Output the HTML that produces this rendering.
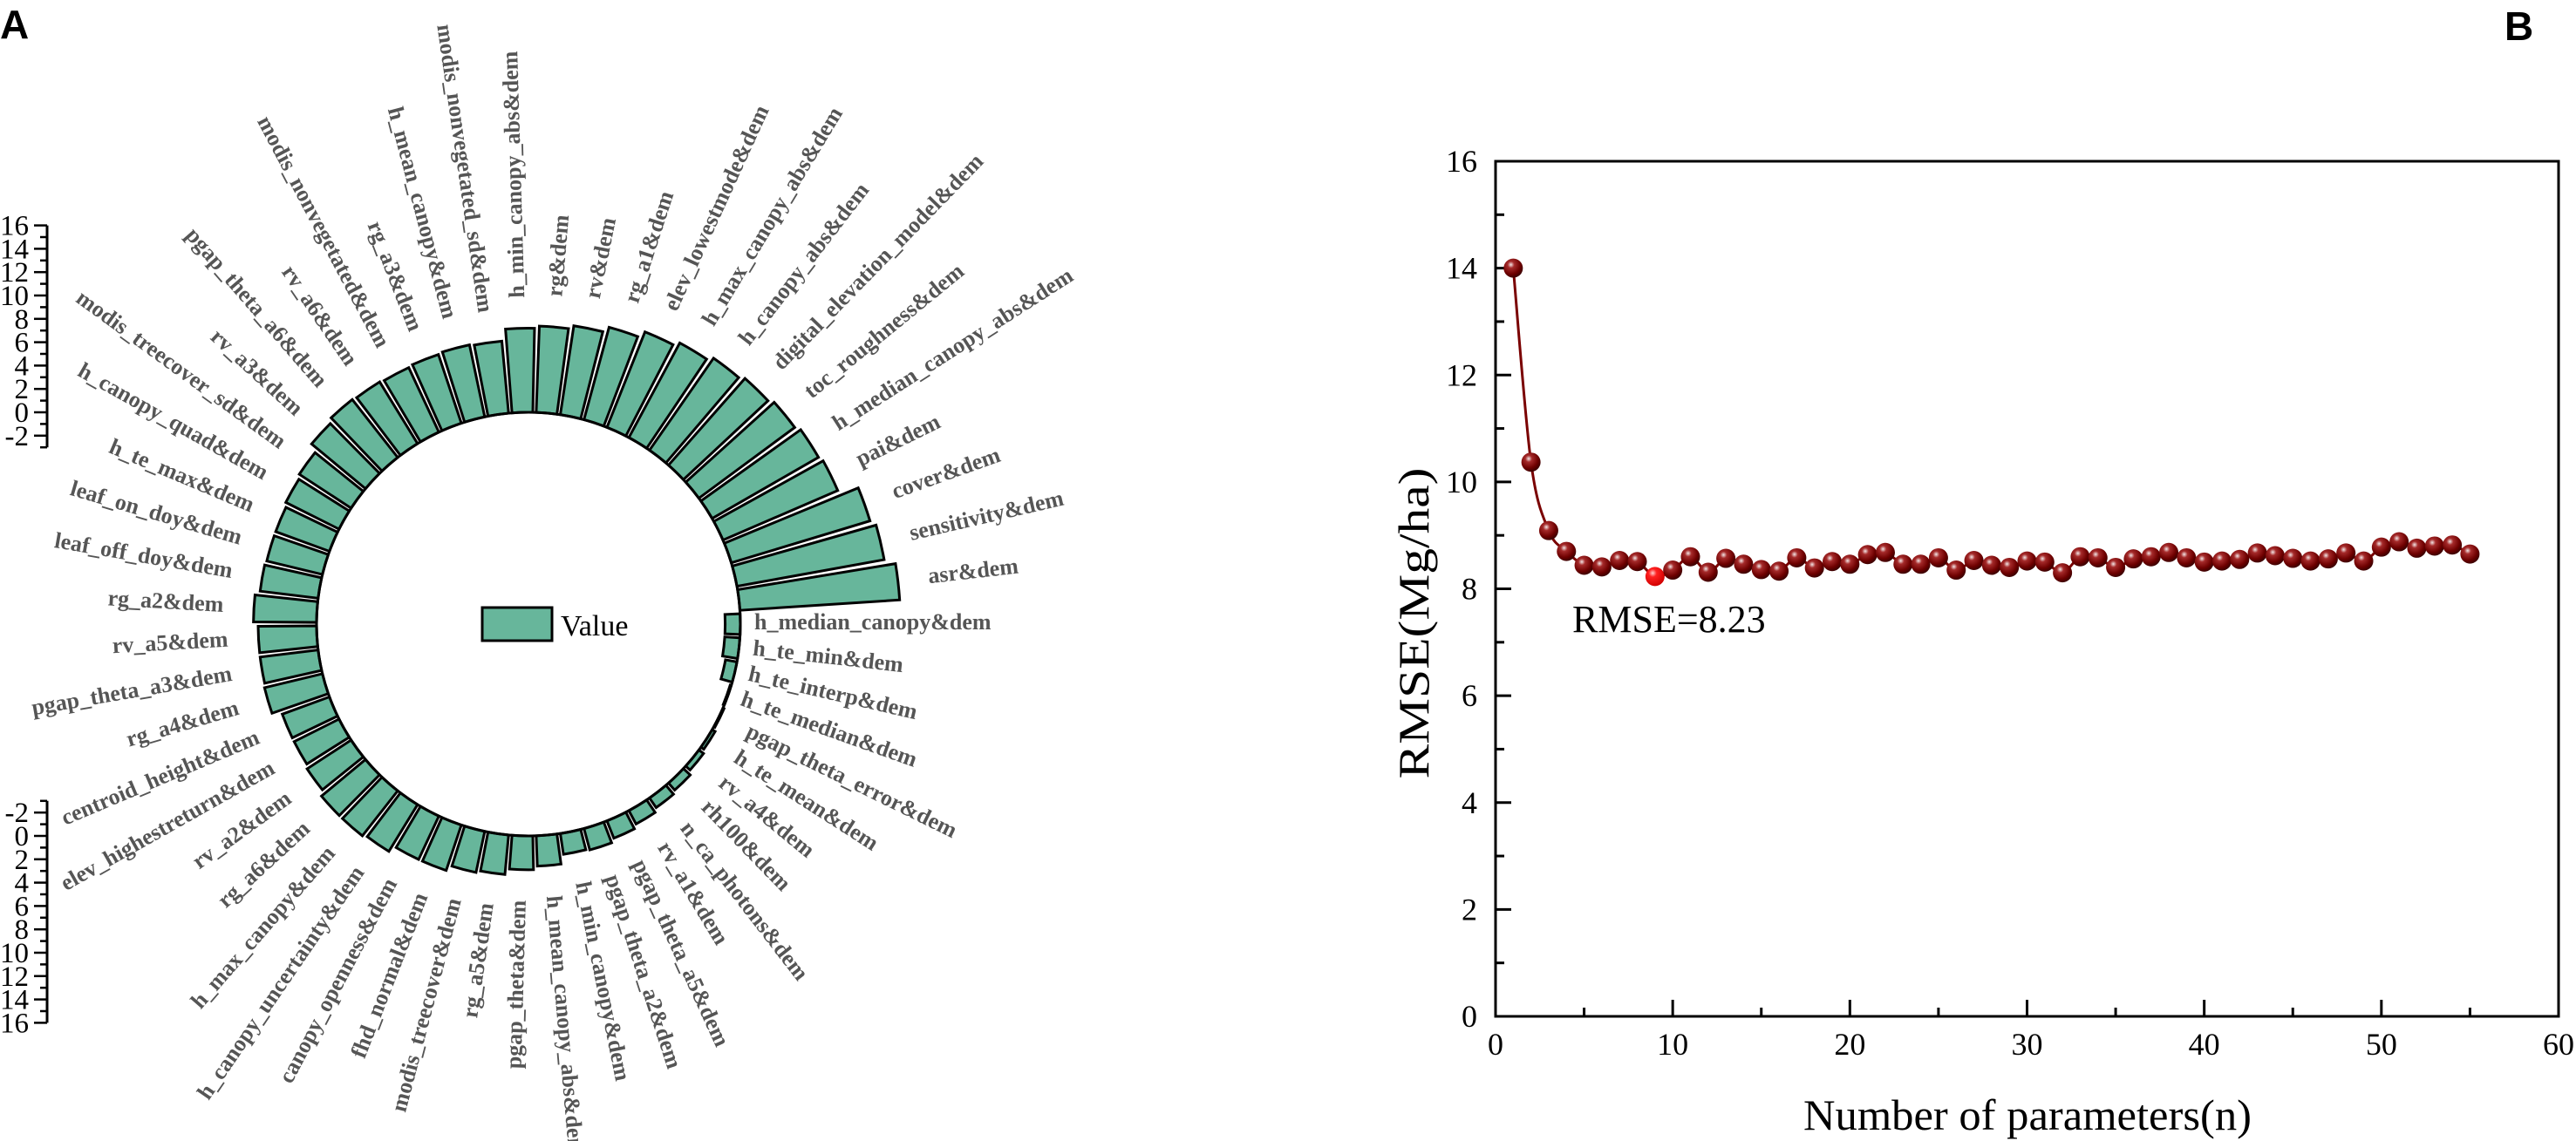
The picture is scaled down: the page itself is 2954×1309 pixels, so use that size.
<!DOCTYPE html>
<html><head><meta charset="utf-8"><style>
html,body{margin:0;padding:0;background:#fff;}
svg{display:block;}
</style></head><body>
<svg id="root" xmlns="http://www.w3.org/2000/svg" width="2954" height="1309" viewBox="0 0 2954 1309">
<defs>
<radialGradient id="ball" cx="0.38" cy="0.32" r="0.7">
<stop offset="0" stop-color="#f4e8e8"/><stop offset="0.25" stop-color="#a52a2a"/><stop offset="0.7" stop-color="#6e0000"/><stop offset="1" stop-color="#3a0000"/>
</radialGradient>
<radialGradient id="ballred" cx="0.38" cy="0.32" r="0.7">
<stop offset="0" stop-color="#ffd0d0"/><stop offset="0.3" stop-color="#ff2020"/><stop offset="1" stop-color="#d00000"/>
</radialGradient>
</defs>
<text x="0" y="44" font-family="Liberation Sans, sans-serif" font-weight="bold" font-size="46">A</text>
<text x="2872" y="46" font-family="Liberation Sans, sans-serif" font-weight="bold" font-size="46">B</text>
<g id="polar"></g>
<g id="lineChart"></g>
</svg>
<script>
// ---------- Panel A data ----------
const featureNames = ["asr&dem","sensitivity&dem","cover&dem","pai&dem","h_median_canopy_abs&dem","toc_roughness&dem","digital_elevation_model&dem","h_canopy_abs&dem","h_max_canopy_abs&dem","elev_lowestmode&dem","rg_a1&dem","rv&dem","rg&dem","h_min_canopy_abs&dem","modis_nonvegetated_sd&dem","h_mean_canopy&dem","rg_a3&dem","modis_nonvegetated&dem","rv_a6&dem","pgap_theta_a6&dem","rv_a3&dem","modis_treecover_sd&dem","h_canopy_quad&dem","h_te_max&dem","leaf_on_doy&dem","leaf_off_doy&dem","rg_a2&dem","rv_a5&dem","pgap_theta_a3&dem","rg_a4&dem","centroid_height&dem","elev_highestreturn&dem","rv_a2&dem","rg_a6&dem","h_max_canopy&dem","h_canopy_uncertainty&dem","canopy_openness&dem","fhd_normal&dem","modis_treecover&dem","rg_a5&dem","pgap_theta&dem","h_mean_canopy_abs&dem","h_min_canopy&dem","pgap_theta_a2&dem","pgap_theta_a5&dem","rv_a1&dem","n_ca_photons&dem","rh100&dem","rv_a4&dem","h_te_mean&dem","pgap_theta_error&dem","h_te_median&dem","h_te_interp&dem","h_te_min&dem","h_median_canopy&dem"];
const featureValues = [13.7,12.8,12.4,10.7,10.5,10.2,9.9,9.6,9.2,8.8,8.2,7.7,7.4,7.2,6.2,6.3,6.2,6.1,6.2,6.3,6.0,5.3,5.1,4.9,4.9,5.0,5.4,5.0,5.0,5.1,4.3,4.3,4.5,4.9,4.9,4.7,4.1,4.1,3.6,3.4,2.9,2.6,1.8,1.9,1.6,1.3,1.0,0.8,0.5,0.3,0.1,-0.1,-1.0,-1.3,-1.3];
const scaleTicks = [-2,0,2,4,6,8,10,12,14,16];

// ---------- Panel B data ----------
const paramCounts = [1,2,3,4,5,6,7,8,9,10,11,12,13,14,15,16,17,18,19,20,21,22,23,24,25,26,27,28,29,30,31,32,33,34,35,36,37,38,39,40,41,42,43,44,45,46,47,48,49,50,51,52,53,54,55];
const rmseValues = [14.0,10.37,9.09,8.7,8.44,8.41,8.53,8.51,8.23,8.35,8.6,8.31,8.57,8.46,8.36,8.33,8.58,8.39,8.51,8.46,8.64,8.68,8.46,8.46,8.58,8.35,8.53,8.44,8.4,8.52,8.5,8.3,8.6,8.58,8.4,8.56,8.6,8.68,8.58,8.5,8.52,8.55,8.67,8.62,8.57,8.52,8.56,8.67,8.52,8.78,8.88,8.76,8.8,8.82,8.65];
const yTickLabels = [0,2,4,6,8,10,12,14,16];
const xTickLabels = [0,10,20,30,40,50,60];
const bestIndex = 8;

const NS = "http://www.w3.org/2000/svg";
function mk(tag, attrs, parent){const e=document.createElementNS(NS,tag);for(const k in attrs)e.setAttribute(k,attrs[k]);parent.appendChild(e);return e;}

// ----- polar chart -----
const polar = document.getElementById('polar');
const cx=606, cy=716, r0=243, unit=13.4;
const step = 2*Math.PI/featureValues.length;
const radius = v => r0 + v*unit;
const pt = (r,a)=>[cx+r*Math.cos(a), cy-r*Math.sin(a)];
featureValues.forEach((v,i)=>{
  const a=(i+1)*step, hw=step*0.43;
  const rIn=Math.min(r0,radius(v)), rOut=Math.max(r0,radius(v));
  const p1=pt(rIn,a-hw),p2=pt(rOut,a-hw),p3=pt(rOut,a+hw),p4=pt(rIn,a+hw);
  const d=`M${p1[0]},${p1[1]} L${p2[0]},${p2[1]} A${rOut},${rOut} 0 0 0 ${p3[0]},${p3[1]} L${p4[0]},${p4[1]} A${rIn},${rIn} 0 0 1 ${p1[0]},${p1[1]} Z`;
  const bar=mk('path',{d:d,fill:'#67b69b',stroke:'#000','stroke-width':3,'stroke-linejoin':'miter'},polar);
  
  
  const deg=a*180/Math.PI;
  const lr=rOut+ (v>0?35:16);
  const lp=pt(lr,a);
  const flip = deg>95 && deg<270;
  const t=mk('text',{x:lp[0],y:lp[1],'font-family':'Liberation Serif, serif','font-weight':'bold','font-size':26,fill:'#555','dominant-baseline':'middle','text-anchor':flip?'end':'start',transform:`rotate(${flip?180-deg:-deg} ${lp[0]} ${lp[1]})`},polar);
  t.textContent=featureNames[i];
  
  
});
const ic=mk('circle',{cx:cx,cy:cy,r:r0,fill:'none',stroke:'#000','stroke-width':3},polar);


const lg=mk('g',{},polar);


mk('rect',{x:553,y:697,width:80,height:38,fill:'#67b69b',stroke:'#000','stroke-width':3},lg);
const lt=mk('text',{x:643,y:729,'font-family':'Liberation Serif, serif','font-size':34},lg);lt.textContent='Value';
function scaleBar(dir, y0, nm){
  const g=mk('g',{},polar);
  
  
  const yv=v=>y0 - dir*v*unit;
  mk('line',{x1:54,x2:54,y1:yv(16),y2:yv(-3),stroke:'#000','stroke-width':3},g);
  for(let v=-3; v<=16; v++){
    const major = v%2===0;
    mk('line',{x1:major?39:46,x2:54,y1:yv(v),y2:yv(v),stroke:'#000','stroke-width':2.5},g);
  }
  scaleTicks.forEach(v=>{
    const t=mk('text',{x:33,y:yv(v)+11,'text-anchor':'end','font-family':'Liberation Serif, serif','font-size':33},g);
    t.textContent=v;
  });
}
scaleBar(1, cy-r0, 'radial-scale-top');
scaleBar(-1, cy+r0, 'radial-scale-bottom');

// ----- line chart -----
const lc=document.getElementById('lineChart');
const X0=1715, X1=2934, Y0=1166, Y1=185;
const xs=v=>X0+(v-0)/(60-0)*(X1-X0);
const ys=v=>Y0-(v-0)/(16-0)*(Y0-Y1);
const frame=mk('rect',{x:X0,y:Y1,width:X1-X0,height:Y0-Y1,fill:'none',stroke:'#000','stroke-width':3},lc);


for(let v=0; v<=16; v++){
  mk('line',{x1:X0,x2:X0+(v%2===0?18:10),y1:ys(v),y2:ys(v),stroke:'#000','stroke-width':3},lc);
}
for(let v=0; v<=60; v+=5){
  mk('line',{x1:xs(v),x2:xs(v),y1:Y0,y2:Y0-(v%10===0?19:10),stroke:'#000','stroke-width':3},lc);
}
yTickLabels.forEach(v=>{
  const t=mk('text',{x:1694,y:ys(v)+12,'text-anchor':'end','font-family':'Liberation Serif, serif','font-size':36},lc);
  t.textContent=v;
  
  
});
xTickLabels.forEach(v=>{
  const t=mk('text',{x:xs(v),y:1210,'text-anchor':'middle','font-family':'Liberation Serif, serif','font-size':36},lc);
  t.textContent=v;
  
  
});
const xt=mk('text',{x:2325,y:1296,'text-anchor':'middle','font-family':'Liberation Serif, serif','font-size':50,textLength:514,lengthAdjust:'spacingAndGlyphs'},lc);
xt.textContent='Number of parameters(n)';


const yt=mk('text',{x:0,y:0,'text-anchor':'middle','font-family':'Liberation Serif, serif','font-size':50,transform:'translate(1638,715) rotate(-90)',textLength:357,lengthAdjust:'spacingAndGlyphs'},lc);
yt.textContent='RMSE(Mg/ha)';


const P=paramCounts.map((n,i)=>[xs(n),ys(rmseValues[i])]);
let d=`M${P[0][0]},${P[0][1]}`;
for(let i=0;i<P.length-1;i++){
  const p0=P[Math.max(0,i-1)],p1=P[i],p2=P[i+1],p3=P[Math.min(P.length-1,i+2)];
  const c1=[p1[0]+(p2[0]-p0[0])/6,p1[1]+(p2[1]-p0[1])/6];
  const c2=[p2[0]-(p3[0]-p1[0])/6,p2[1]-(p3[1]-p1[1])/6];
  d+=` C${c1[0]},${c1[1]} ${c2[0]},${c2[1]} ${p2[0]},${p2[1]}`;
}
const ln=mk('path',{d:d,fill:'none',stroke:'#7a0000','stroke-width':3},lc);


P.forEach((p,i)=>{
  const c=mk('circle',{cx:p[0],cy:p[1],r:11,fill:i===bestIndex?'url(#ballred)':'url(#ball)'},lc);
  
  
});
const ann=mk('text',{x:1803,y:725,'font-family':'Liberation Serif, serif','font-size':44},lc);
ann.textContent='RMSE=8.23';


</script>
</body></html>
